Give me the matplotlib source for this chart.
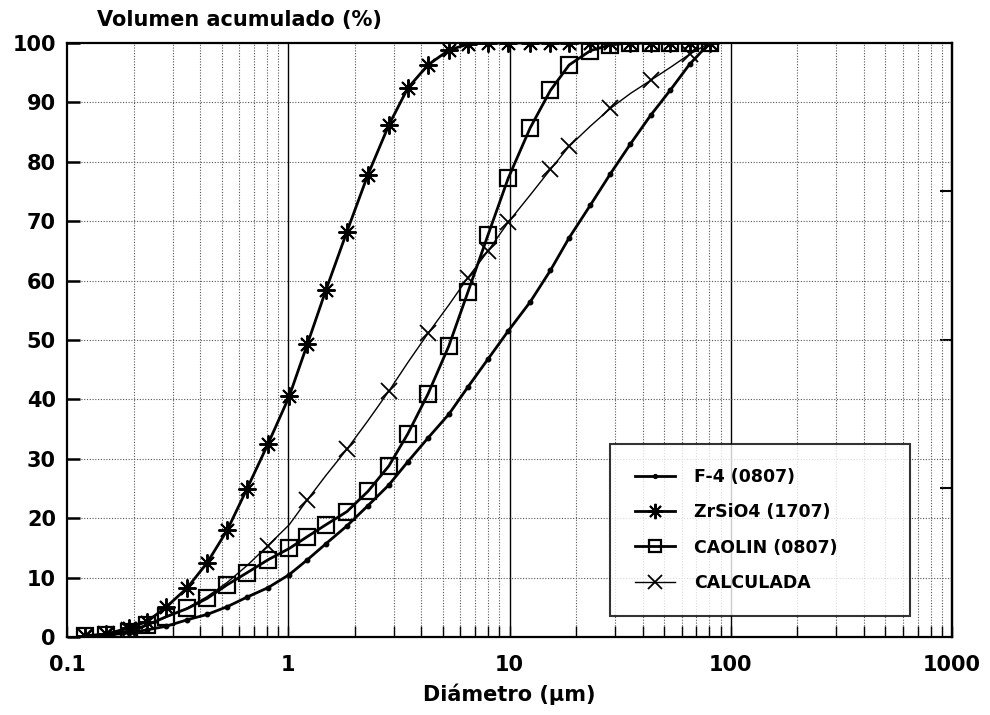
import numpy as np
import matplotlib
matplotlib.use("Agg")
import matplotlib.pyplot as plt
from matplotlib.ticker import FixedLocator, NullFormatter

# --------------------------------------------
# DATA
# --------------------------------------------

diam = [0.12, 0.15, 0.19, 0.23, 0.28, 0.35, 0.43, 0.53, 0.65, 0.81,
        1.01, 1.22, 1.48, 1.84, 2.29, 2.85, 3.47, 4.28, 5.32, 6.49,
        8.0, 9.86, 12.4, 15.3, 18.6, 23.2, 28.6, 35.2, 43.4, 53.4,
        65.1, 80.3]

f4 = [0.1, 0.3, 0.7, 1.2, 1.8, 2.9, 3.8, 5.1, 6.7, 8.3,
      10.5, 13.0, 15.7, 18.7, 22.1, 25.6, 29.5, 33.5, 37.5, 42.1,
      46.8, 51.5, 56.4, 61.7, 67.2, 72.7, 78.0, 83.0, 87.8, 92.1,
      96.4, 100]

zrsio4 = [0.2, 0.5, 1.5, 2.6, 5.0, 8.3, 12.5, 18.0, 24.9, 32.5,
          40.5, 49.3, 58.4, 68.2, 77.8, 86.2, 92.4, 96.3, 98.8, 99.8,
          100, 100, 100, 100, 100, 100, 100, 100, 100, 100,
          100, 100]

caolin = [0.2, 0.3, 0.9, 2.0, 3.4, 4.8, 6.5, 8.8, 10.8, 13.0,
          14.9, 16.9, 18.9, 21.1, 24.5, 28.8, 34.2, 40.9, 49.0, 58.1,
          67.7, 77.2, 85.7, 92.0, 96.3, 98.7, 99.7, 100, 100, 100,
          100, 100]

calculada = [0.2, 0.5, 1.1, 2.0, 3.3, 4.9, 6.8, 9.2, 12.0, 15.4,
             18.9, 23.1, 27.2, 31.6, 36.4, 41.4, 46.2, 51.1, 55.9, 60.5,
             65.0, 69.8, 74.4, 78.7, 82.6, 86.0, 89.0, 91.5, 93.7, 95.9,
             98.1, 100]

# the X symbols are not on every point in the original
calc_marks = [0, 1, 2, 9, 11, 13, 15, 17, 19, 20, 21, 23, 24, 26, 28, 30, 31]

labels = ["F-4 (0807)", "ZrSiO4 (1707)", "CAOLIN (0807)", "CALCULADA"]

# --------------------------------------------
# FIGURE
# --------------------------------------------

plt.rcParams["font.family"] = ["DejaVu Sans"]
plt.rcParams["font.weight"] = "bold"

fig = plt.figure(figsize=(9.9, 7.15), dpi=100)
ax = fig.add_axes([0.0677, 0.1091, 0.8939, 0.8308])

ax.set_xscale("log")
ax.set_xlim(0.1, 1000)
ax.set_ylim(0, 100)

# grid: solid at decades, dotted elsewhere
for d in [1, 10, 100]:
    ax.axvline(d, color="black", lw=1.0, zorder=1)
for dec in [0.1, 1, 10, 100]:
    for m in range(2, 10):
        ax.axvline(dec * m, color="#555555", lw=0.8, ls=(0, (1, 1.5)), zorder=1)
for v in range(10, 100, 10):
    ax.axhline(v, color="#555555", lw=0.8, ls=(0, (1, 1.5)), zorder=1)

ax.plot(diam, f4, color="black", lw=2.0, marker="o", ms=3.2, zorder=3,
        label=labels[0])
ax.plot(diam, zrsio4, color="black", lw=2.0, marker=(8, 2, 0), ms=13,
        mew=1.4, zorder=3, label=labels[1])
ax.plot(diam, caolin, color="black", lw=2.0, marker="s", ms=11,
        mfc="none", mew=1.6, zorder=3, label=labels[2])
ax.plot(diam, calculada, color="black", lw=1.0, marker="x", ms=12,
        mew=1.3, markevery=calc_marks, zorder=3, label=labels[3])

# ticks
ax.set_yticks(range(0, 101, 10))
ax.tick_params(axis="y", direction="in", length=9, width=1.8, pad=8,
               labelsize=15)
ax.xaxis.set_major_locator(FixedLocator([0.1, 1, 10, 100, 1000]))
ax.set_xticklabels(["0.1", "1", "10", "100", "1000"])
ax.xaxis.set_minor_locator(FixedLocator(
    [dec * m for dec in [0.1, 1, 10, 100] for m in range(2, 10)]))
ax.xaxis.set_minor_formatter(NullFormatter())
ax.tick_params(axis="x", which="both", direction="in", length=8,
               width=1.0, pad=13, labelsize=15)

right = ax.secondary_yaxis("right")
right.set_yticks([25, 50, 75])
right.tick_params(direction="in", length=9, width=1.5, labelright=False)

for s in ax.spines.values():
    s.set_linewidth(1.6)
right.spines["right"].set_linewidth(1.6)

ax.set_xlabel("Diámetro (µm)", fontsize=15, fontweight="bold", labelpad=6)
fig.text(0.098, 0.972, "Volumen acumulado (%)", fontsize=15,
         fontweight="bold", ha="left", va="center")

leg = ax.legend(loc="lower left", bbox_to_anchor=(0.614, 0.035, 0.339, 0.317),
                mode="expand", fontsize=12.5, frameon=True, fancybox=False,
                handlelength=2.3, labelspacing=1.0, borderpad=1.4,
                markerscale=0.85, handletextpad=1.1, borderaxespad=0)
leg.get_frame().set_edgecolor("black")
leg.get_frame().set_linewidth(1.5)
for t in leg.get_texts():
    t.set_fontweight("bold")

fig.savefig("out.png", dpi=100)
